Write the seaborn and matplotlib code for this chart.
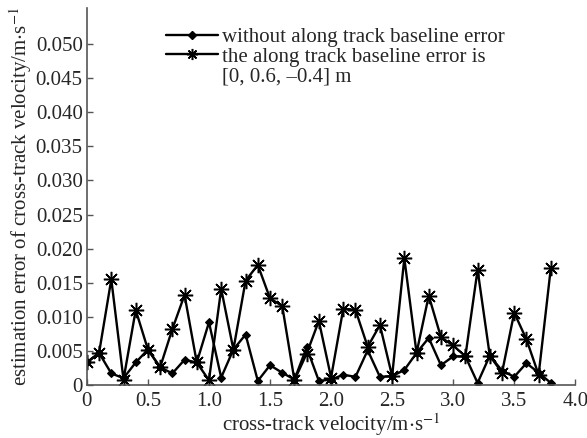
import numpy as np
import pandas as pd
import matplotlib
matplotlib.use('Agg')
import matplotlib.pyplot as plt
from matplotlib.lines import Line2D
import seaborn as sns

# data
velocity = [round(0.1 * i, 1) for i in range(39)]
err_without = [0.0033, 0.0047, 0.0017, 0.0010, 0.0033, 0.0052, 0.0026, 0.0017, 0.0037, 0.0033,
               0.0092, 0.0011, 0.0052, 0.0074, 0.0006, 0.0029, 0.0018, 0.0008, 0.0055, 0.0006,
               0.0008, 0.0015, 0.0012, 0.0051, 0.0012, 0.0013, 0.0022, 0.0047, 0.0069, 0.0029,
               0.0042, 0.0042, 0.0003, 0.0043, 0.0021, 0.0012, 0.0032, 0.0018, 0.0003]
err_with = [0.0033, 0.0047, 0.0155, 0.0008, 0.0110, 0.0052, 0.0026, 0.0082, 0.0132, 0.0033,
            0.0007, 0.0141, 0.0052, 0.0153, 0.0176, 0.0127, 0.0116, 0.0007, 0.0046, 0.0094,
            0.0011, 0.0112, 0.0110, 0.0056, 0.0088, 0.0013, 0.0186, 0.0047, 0.0131, 0.0070,
            0.0058, 0.0042, 0.0169, 0.0043, 0.0018, 0.0106, 0.0067, 0.0015, 0.0172]
labels = ['without along track baseline error',
          'the along track baseline error is',
          '[0, 0.6, \u20130.4] m']
x_ticks = [0, 0.5, 1.0, 1.5, 2.0, 2.5, 3.0, 3.5, 4.0]
x_ticklabels = ['0', '0.5', '1.0', '1.5', '2.0', '2.5', '3.0', '3.5', '4.0']
y_ticks = [0, 0.005, 0.010, 0.015, 0.020, 0.025, 0.030, 0.035, 0.040, 0.045, 0.050]
y_ticklabels = ['0'] + [f'{v:.3f}' for v in y_ticks[1:]]

sns.set_style('white')
plt.rcParams['font.family'] = ['Liberation Serif', 'DejaVu Serif']
plt.rcParams['mathtext.fontset'] = 'stix'
FS = 15

fig = plt.figure(figsize=(5.87, 4.38), dpi=100)
ax = fig.add_axes([0.148, 0.121, 0.832, 0.861])

star = (8, 2, 0)
sns.lineplot(x=velocity, y=err_without, ax=ax, color='black', lw=1.7,
             marker='D', markersize=4.5, markeredgecolor='black', legend=False)
sns.lineplot(x=velocity, y=err_with, ax=ax, color='black', lw=1.7,
             marker=star, markersize=11, markeredgewidth=1.1,
             markeredgecolor='black', legend=False)

ax.set_xlim(0, 4.0)
ax.set_ylim(0, 0.0553)
ax.set_xticks(x_ticks)
ax.set_xticklabels(x_ticklabels)
ax.set_yticks(y_ticks)
ax.set_yticklabels(y_ticklabels)
ax.tick_params(direction='in', length=4, width=1, color='#555555',
               labelsize=FS, pad=3, bottom=True, left=True)
ax.tick_params(axis='x', pad=5)
for s in ['top', 'right']:
    ax.spines[s].set_visible(False)
for s in ['left', 'bottom']:
    ax.spines[s].set_color('#555555')
    ax.spines[s].set_linewidth(1.2)

ax.set_xlabel('cross-track velocity/m$\\cdot$s$^{-1}$', fontsize=FS, labelpad=0)
ax.set_ylabel('estimation error of cross-track velocity/m$\\cdot$s$^{-1}$',
              fontsize=FS, labelpad=1)

handles = [Line2D([], [], color='black', lw=1.7, marker='D', markersize=4),
           Line2D([], [], color='black', lw=1.7, marker=star, markersize=8,
                  markeredgewidth=1.1),
           Line2D([], [], color='none')]
ax.legend(handles, labels, loc='upper left', bbox_to_anchor=(0.145, 0.97),
          frameon=False, fontsize=FS, handlelength=2.5, handletextpad=0.2,
          labelspacing=0.0, borderaxespad=0.0)

fig.savefig('out.png', dpi=100)
